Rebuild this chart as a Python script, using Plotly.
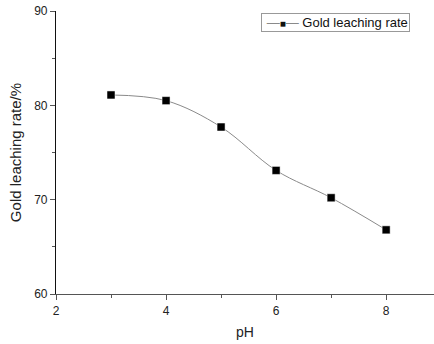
import plotly.graph_objects as go

ph = [3, 4, 5, 6, 7, 8]
rate = [81.1, 80.5, 77.7, 73.1, 70.2, 66.8]
series_name = "Gold leaching rate"

fig = go.Figure()
fig.add_trace(go.Scatter(
    x=ph, y=rate, name=series_name, mode="lines+markers",
    line=dict(color="#8a8a8a", width=1, shape="spline", smoothing=1),
    marker=dict(symbol="square", size=8, color="black",
                line=dict(color="white", width=0.5)),
    showlegend=False,
))

font = dict(family="Liberation Sans, Arial, sans-serif", size=12, color="#222")
fig.update_layout(
    width=434, height=344,
    margin=dict(l=56, r=0, t=11, b=50),
    paper_bgcolor="white", plot_bgcolor="white",
    font=font,
    showlegend=False,
)
# legend drawn as a boxed annotation
fig.add_annotation(
    xref="paper", yref="paper", x=0.9365, y=0.993,
    xanchor="right", yanchor="top", showarrow=False,
    text=("&nbsp;<span style='color:#8a8a8a'>—</span>"
          "<span style='font-size:10px'>■</span>"
          "<span style='color:#8a8a8a'>—</span> " + series_name),
    font=dict(size=13, color="#111"),
    bordercolor="#999", borderwidth=1, borderpad=1, bgcolor="white",
)
fig.update_xaxes(
    range=[2, 8.87], showline=True, linecolor="#555", linewidth=1.2,
    ticks="outside", ticklen=5, tickcolor="#555",
    tickvals=[2, 4, 6, 8],
    minor=dict(tickvals=[3, 5, 7], ticks="outside", ticklen=3, tickcolor="#555"),
    showgrid=False, zeroline=False,
    title=dict(text="pH", font=dict(size=14), standoff=10),
)
fig.update_yaxes(
    range=[60, 90], showline=True, linecolor="#111", linewidth=1.2,
    ticks="outside", ticklen=5, tickcolor="#555",
    tickvals=[60, 70, 80, 90],
    minor=dict(tickvals=[65, 75, 85], ticks="outside", ticklen=3, tickcolor="#555"),
    showgrid=False, zeroline=False,
    title=dict(text="Gold leaching rate/%", font=dict(size=15), standoff=8),
)
fig.write_html("out.html")
